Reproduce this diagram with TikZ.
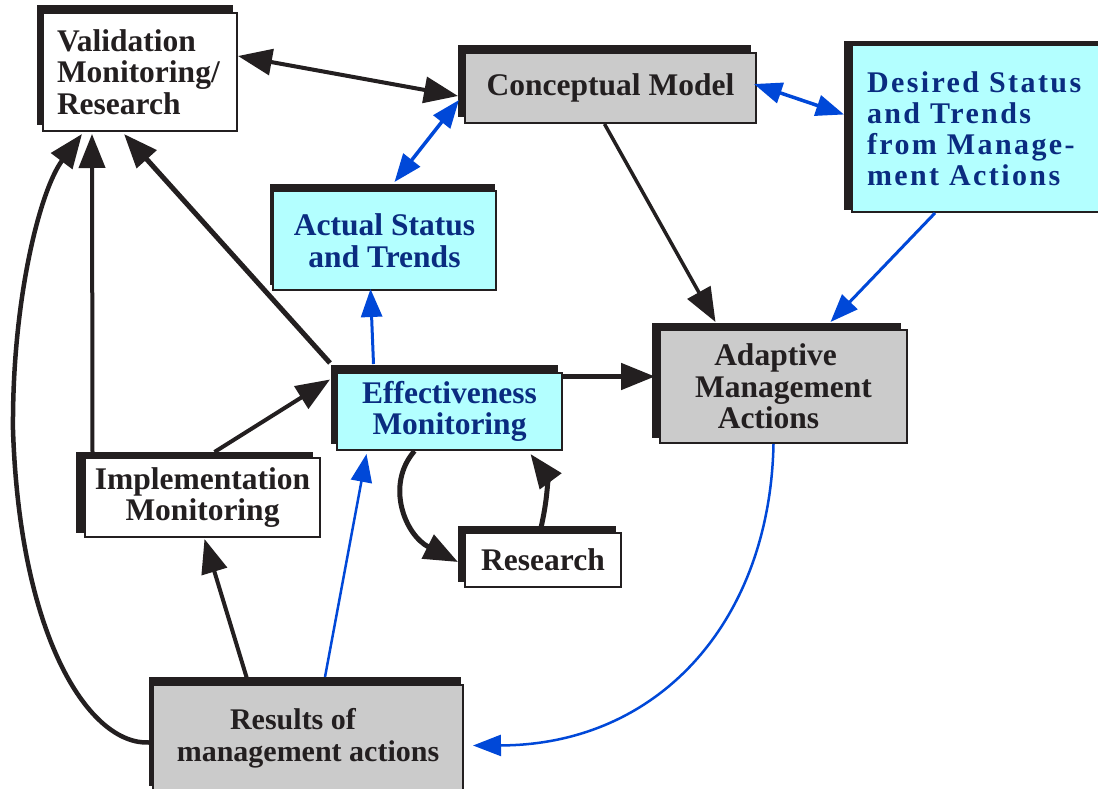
\documentclass[tikz,border=0pt]{standalone}
\usepackage{fontspec}
\setmainfont{Liberation Serif}
\newfontfamily\spacedfont{Liberation Serif Bold}[LetterSpace=8]
\usetikzlibrary{arrows.meta,shadows,calc}
\definecolor{dark}{HTML}{231F20}
\definecolor{boxgray}{HTML}{CBCBCB}
\definecolor{boxcyan}{HTML}{B3FFFF}
\definecolor{navy}{HTML}{0A2C80}
\definecolor{arrowblue}{HTML}{0048D8}
\begin{document}
\begin{tikzpicture}[x=1pt,y=-1pt,
  box/.style={draw=dark, line width=2pt, inner sep=0pt, text=dark,
    font=\bfseries\fontsize{31.5}{31.5}\selectfont, align=center},
  shad/.style 2 args={general shadow={fill=dark, draw=dark, shadow xshift=#1, shadow yshift=#2}},
  whitebox/.style={box, fill=white},
  graybox/.style={box, fill=boxgray},
  cyanbox/.style={box, fill=boxcyan, text=navy},
  blk/.style={draw=dark, line width=4pt, -{Triangle[length=34pt,width=26pt]}},
  blkboth/.style={draw=dark, line width=4pt, {Triangle[length=34pt,width=26pt]}-{Triangle[length=34pt,width=26pt]}},
  blu/.style={draw=arrowblue, line width=3pt, -{Triangle[length=28pt,width=21pt]}},
  bluboth/.style={draw=arrowblue, line width=3.5pt, {Triangle[length=28pt,width=21pt]}-{Triangle[length=28pt,width=21pt]}},
]
\useasboundingbox (0,0) rectangle (1098,789);
\fill[white] (0,0) rectangle (1098,789);
\clip (0,0) rectangle (1098,789);

% nodes
\node[whitebox, text width=166pt, inner xsep=14pt, align=left, minimum height=118pt, shad={-5pt}{7pt}]
  (val) at (140,72) {Validation\\Monitoring/\\Research};
\node[graybox, minimum width=291pt, minimum height=70pt, shad={-6pt}{7pt}]
  (cm) at (610.5,88) {Conceptual Model};
\node[cyanbox, font=\spacedfont\fontsize{30}{31}\selectfont, text width=222pt, inner xsep=15pt,
  align=left, minimum height=167pt, shad={-7pt}{3pt}]
  (des) at (978,128.5) {Desired Status\\and Trends\\from Manage-\\ment Actions};
\node[cyanbox, minimum width=223pt, minimum height=99pt, shad={-2pt}{6pt}]
  (act) at (384.5,240.5) {Actual Status\\and Trends};
\node[cyanbox, minimum width=225pt, minimum height=77pt, shad={-5pt}{7pt}]
  (eff) at (449.5,411.5) {Effectiveness\\Monitoring};
\node[graybox, minimum width=247pt, minimum height=113pt, shad={-7pt}{6pt}]
  (ada) at (783.5,386.5) {Adaptive\hspace*{16pt}\\Management\hspace*{16pt}\\Actions\hspace*{30pt}};
\node[whitebox, minimum width=235pt, minimum height=79pt, shad={-8pt}{5pt}]
  (imp) at (202.5,497.5) {Implementation\\Monitoring};
\node[whitebox, minimum width=156pt, minimum height=54pt, shad={-6pt}{6pt}]
  (rsch) at (543,560) {Research};
\node[graybox, font=\bfseries\fontsize{30}{32}\selectfont, minimum width=310pt, minimum height=107pt, shad={-3pt}{7pt}]
  (resu) at (308,738.5) {Results of\hspace*{30pt}\\management actions};

% connectors
\draw[blkboth] ($(val.east)+(0,-16)$) -- ($(cm.west)+(-6,8)$);
\draw[bluboth] ($(act.north)+(10,-8)$) -- ($(cm.west)+(-5,12)$);
\draw[bluboth] ($(cm.east)+(-3,-4)$) -- ($(des.west)+(-7,-14)$);
\draw[blk, line width=3.5pt] ($(cm.south)+(-6,0)$) -- ($(ada.north)+(-68,-7)$);
\draw[blu] ($(des.south)+(-43,0)$) -- ($(ada.north)+(47,-7)$);
\draw[blu] ($(eff.north)+(-76,-8)$) -- ($(act.south)+(-14,-2)$);
\draw[blk, line width=5pt] ($(eff.north west)+(-6,-9)$) -- ($(val.south)+(-16,2)$);
\draw[blk] ($(imp.north)+(-110,-5)$) -- ($(val.south)+(-48,2)$);
\draw[blk, line width=4.5pt] ($(resu.west)+(-3,4)$) .. controls (90,745) and (20,640) .. (13,430)
  .. controls (12,300) and (40,190) .. ($(val.south)+(-58,2)$);
\draw[blk] ($(imp.north)+(12,-5)$) -- ($(eff.west)+(-6,-32)$);
\draw[blk, line width=5pt] ($(eff.east)+(0,-35)$) -- ($(ada.west)+(-4,-10)$);
\draw[blk, line width=5pt] ($(eff.south)+(-35,0)$) .. controls (385,485) and (405,535) .. ($(rsch.west)+(-6,2)$);
\draw[blk, line width=5pt] ($(rsch.north)+(-3,0)$) .. controls (550,490) and (546,475) .. ($(eff.south)+(81,3)$);
\draw[blk] ($(resu.north)+(-60,-2)$) -- ($(imp.south)+(2,1)$);
\draw[blu, line width=2.5pt] ($(resu.north)+(17,-7)$) -- ($(eff.south)+(-83,3)$);
\draw[blu, line width=2.5pt] ($(ada.south)+(-10,0)$) .. controls (770,620) and (660,745) .. ($(resu.east)+(9,7)$);
\end{tikzpicture}
\end{document}
